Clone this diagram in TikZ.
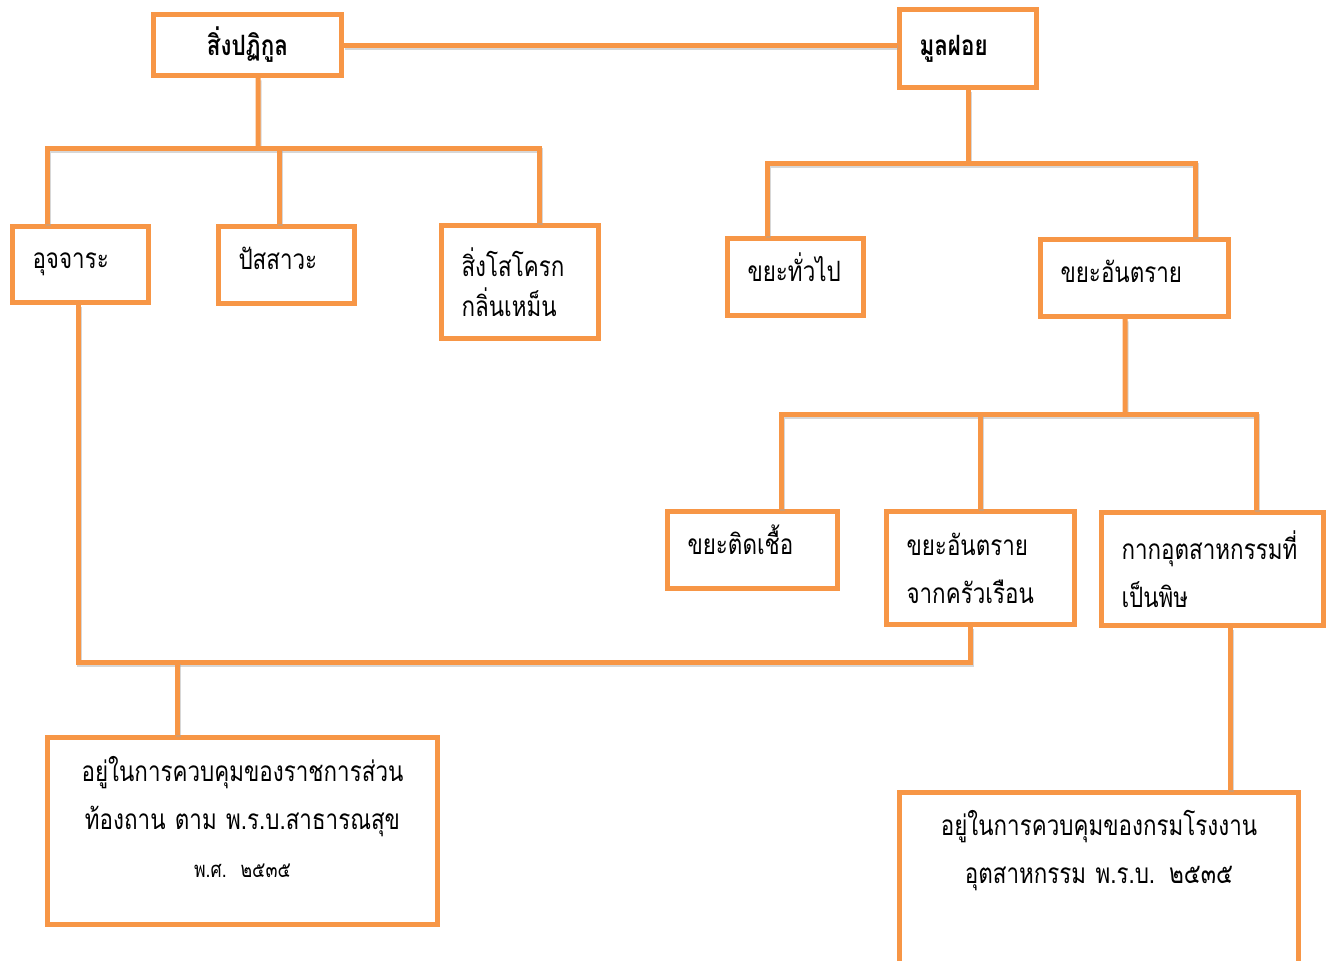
\documentclass[tikz,border=0pt]{standalone}
\usepackage{fontspec}
\newfontfamily\thai[Script=Thai,FakeStretch=0.8]{Loma}
\usetikzlibrary{shadows}
\definecolor{boxorange}{HTML}{F79646}
\tikzset{
  box/.style 2 args={draw=boxorange, line width=2.5pt, fill=white,
    text width=#1, minimum height=#2, inner xsep=10pt, inner ysep=1pt,
    align=left, font=\thai\fontsize{14}{24}\selectfont,
    drop shadow={opacity=0.25, shadow xshift=0.6pt, shadow yshift=-0.9pt}},
  oneline/.style={text height=9pt, text depth=5pt},
  link/.style={draw=boxorange, line width=2.5pt,
    preaction={draw=black!35, opacity=0.45, line width=2.5pt,
      transform canvas={shift={(0.6pt,-1.2pt)}}}}
}
\begin{document}
\begin{tikzpicture}
    \def\x{0.017573}
    \def\y{-0.017573}
    \useasboundingbox (0,0) rectangle (1333*\x, 960*\y);
    % top row
    \node[box={74pt}{30.5pt}, align=center, font=\thai\bfseries\fontsize{14}{24}\selectfont] (A0_0) at (247.5*\x, 45*\y) {สิ่งปฏิกูล};
    \node[box={48.5pt}{39pt}, font=\thai\bfseries\fontsize{14}{24}\selectfont] (A0_1) at (968*\x, 48.5*\y) {มูลฝอย\rule[-3pt]{0pt}{0pt}};
    % second row
    \node[box={48pt}{38pt}, oneline] (A1_0) at (80.5*\x, 264.5*\y) {อุจจาระ};
    \node[box={48pt}{38.5pt}, oneline] (A1_1) at (286.5*\x, 265*\y) {ปัสสาวะ};
    \node[box={58.5pt}{56.5pt}, font=\thai\fontsize{14}{20}\selectfont] (A1_2) at (520*\x, 282*\y) {สิ่งโสโครก\\กลิ่นเหม็น};
    \node[box={48pt}{38.5pt}, oneline] (A1_3) at (795.5*\x, 277*\y) {ขยะทั่วไป};
    \node[box={74pt}{38.5pt}, oneline] (A1_4) at (1134.5*\x, 278*\y) {ขยะอันตราย};
    % third row
    \node[box={65pt}{38.5pt}, oneline] (A2_0) at (752.5*\x, 550*\y) {ขยะติดเชื้อ};
    \node[box={74pt}{56.5pt}] (A2_1) at (980.5*\x, 568*\y) {ขยะอันตราย\\จากครัวเรือน};
    \node[box={91pt}{56.5pt}] (A2_2) at (1212.5*\x, 569*\y) {กากอุตสาหกรรมที่\\เป็นพิษ};
    % bottom row
    \node[box={175pt}{93.5pt}, align=center] (A3_0) at (242.5*\x, 831*\y)
      {อยู่ในการควบคุมของราชการส่วน\\ท้องถาน ตาม พ.ร.บ.สาธารณสุข\\{\fontsize{11}{24}\selectfont พ.ศ. ๒๕๓๕}\rule[-14pt]{0pt}{0pt}};
    \node[box={179.5pt}{10pt}, align=center, anchor=north, inner ysep=9pt] (A3_1) at (1099*\x, 789.5*\y)
      {อยู่ในการควบคุมของกรมโรงงาน\\อุตสาหกรรม พ.ร.บ. ๒๕๓๕\rule[-70pt]{0pt}{0pt}};
    % joints
    \coordinate (T0) at (258*\x, 148*\y);
    \coordinate (T1) at (968*\x, 163*\y);
    \coordinate (T2) at (1125*\x, 414*\y);
    \coordinate (T3) at (177*\x, 662*\y);
    % connectors
    \path[link] (A0_0.east) -- (A0_0.east -| A0_1.west);
    \path[link] ([xshift=5.25pt]A0_0.south) -- (T0);
    \path[link] ([xshift=-16.75pt]A1_0.north) |- (T0) -| ([xshift=9.5pt]A1_2.north);
    \path[link] ([xshift=-3.75pt]A1_1.north) -- ([xshift=-3.75pt]A1_1.north |- T0);
    \path[link] (A0_1.south) -- (T1);
    \path[link] ([xshift=-14.25pt]A1_3.north) |- (T1) -| ([xshift=30.25pt]A1_4.north);
    \path[link] ([xshift=-4.75pt]A1_4.south) -- (T2);
    \path[link] ([xshift=14.25pt]A2_0.north) |- (T2) -| ([xshift=21.75pt]A2_2.north);
    \path[link] (A2_1.north) -- (A2_1.north |- T2);
    \path[link] ([xshift=-1.25pt]A1_0.south) |- (T3) -| ([xshift=-5.25pt]A2_1.south);
    \path[link] (T3) -- (T3 |- A3_0.north);
    \path[link] ([xshift=8.75pt]A2_2.south) -- ([xshift=8.75pt]A2_2.south |- A3_1.north);
  \end{tikzpicture}
\end{document}
